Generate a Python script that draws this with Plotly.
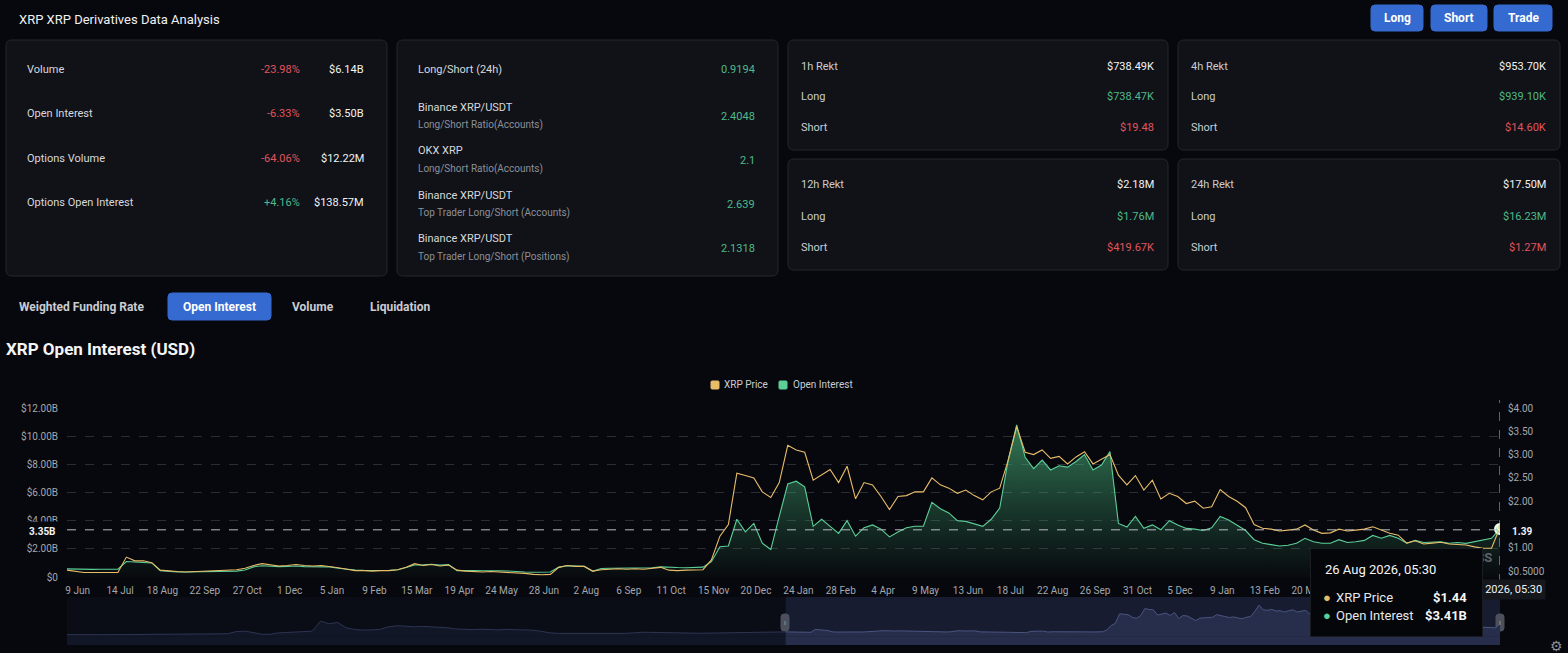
import pandas as pd
import plotly.graph_objects as go

W, H = 1568, 653

# open interest (billions USD), weekly samples
oi_billion = [
    0.58, 0.55, 0.55, 0.54, 0.55, 0.55, 0.55, 1.10, 1.05, 1.02,
    1.00, 0.45, 0.38, 0.36, 0.35, 0.36, 0.38, 0.37, 0.38, 0.40,
    0.42, 0.50, 0.72, 0.80, 0.76, 0.74, 0.75, 0.78, 0.74, 0.73,
    0.74, 0.72, 0.62, 0.55, 0.50, 0.47, 0.45, 0.46, 0.47, 0.52,
    0.68, 0.85, 0.86, 0.90, 0.84, 0.88, 0.45, 0.47, 0.45, 0.44,
    0.46, 0.44, 0.43, 0.42, 0.36, 0.34, 0.33, 0.35, 0.70, 0.80,
    0.78, 0.76, 0.40, 0.60, 0.62, 0.63, 0.62, 0.64, 0.63, 0.66,
    0.72, 0.68, 0.67, 0.66, 0.68, 0.70, 1.09, 2.15, 2.20, 4.10,
    3.20, 3.80, 2.40, 1.95, 4.30, 6.60, 6.80, 6.40, 3.60, 4.10,
    3.60, 3.10, 4.00, 2.90, 3.50, 3.70, 3.40, 2.85, 3.20, 3.50,
    3.60, 3.60, 5.30, 4.85, 4.55, 4.00, 3.95, 3.80, 3.60, 4.10,
    4.90, 8.30, 10.80, 8.50, 7.70, 8.30, 7.60, 7.90, 7.80, 8.20,
    8.70, 7.60, 7.95, 8.90, 3.80, 3.55, 4.30, 3.46, 3.70, 3.35,
    4.00, 3.70, 3.45, 3.40, 3.30, 3.50, 4.30, 4.05, 3.70, 3.30,
    2.65, 2.40, 2.30, 2.20, 2.25, 2.40, 2.75, 2.50, 2.40, 2.40,
    2.65, 2.45, 2.50, 2.60, 2.95, 2.75, 2.95, 2.75, 2.40, 2.60,
    2.45, 2.45, 2.50, 2.40, 2.45, 2.39, 2.50, 2.63, 2.75, 3.41,
]

# XRP price (USD), same weekly samples
xrp_price = [
    0.52, 0.50, 0.47, 0.47, 0.47, 0.48, 0.47, 0.80, 0.72, 0.72,
    0.68, 0.52, 0.50, 0.49, 0.48, 0.49, 0.50, 0.50, 0.51, 0.52,
    0.53, 0.56, 0.62, 0.66, 0.63, 0.61, 0.62, 0.64, 0.62, 0.61,
    0.62, 0.60, 0.57, 0.54, 0.51, 0.51, 0.50, 0.51, 0.51, 0.53,
    0.58, 0.66, 0.62, 0.64, 0.61, 0.63, 0.52, 0.50, 0.49, 0.48,
    0.49, 0.48, 0.48, 0.47, 0.45, 0.43, 0.42, 0.43, 0.58, 0.62,
    0.60, 0.60, 0.50, 0.53, 0.54, 0.55, 0.54, 0.55, 0.54, 0.56,
    0.58, 0.52, 0.51, 0.52, 0.52, 0.53, 0.74, 1.25, 1.50, 2.60,
    2.55, 2.50, 2.20, 2.08, 2.40, 3.20, 3.10, 3.05, 2.45, 2.56,
    2.68, 2.40, 2.75, 2.05, 2.40, 2.35, 2.10, 1.82, 2.10, 2.12,
    2.20, 2.20, 2.50, 2.35, 2.28, 2.17, 2.24, 2.12, 2.03, 2.20,
    2.28, 2.88, 3.60, 3.05, 3.00, 3.10, 2.92, 2.96, 2.80, 2.95,
    3.06, 2.80, 2.90, 3.00, 2.56, 2.35, 2.55, 2.24, 2.45, 2.05,
    2.17, 2.10, 1.95, 2.00, 1.85, 1.88, 2.25, 2.10, 2.00, 1.86,
    1.50, 1.42, 1.40, 1.36, 1.38, 1.40, 1.49, 1.38, 1.31, 1.32,
    1.40, 1.36, 1.38, 1.40, 1.45, 1.38, 1.31, 1.27, 1.10, 1.15,
    1.08, 1.10, 1.12, 1.08, 1.07, 1.06, 1.02, 0.99, 0.99, 1.44,
]

dates = pd.date_range(end="2026-08-26 05:30", periods=len(oi_billion), freq="7D")

# older price history only shown in the zoom slider (every 14 days)
early_price = [
    0.20, 0.18, 0.17, 0.18, 0.19, 0.20, 0.19, 0.20, 0.21, 0.22,
    0.24, 0.25, 0.28, 0.28, 0.26, 0.25, 0.26, 0.28, 0.27, 0.30,
    0.55, 0.60, 0.45, 0.25, 0.24, 0.40, 0.45, 0.48, 0.50, 0.60,
    1.75, 1.45, 1.60, 1.00, 0.80, 0.72, 0.74, 0.80, 1.10, 1.22,
    1.18, 1.10, 1.15, 1.10, 1.12, 1.00, 0.85, 0.80, 0.78, 0.82,
    0.78, 0.75, 0.80, 0.78, 0.76, 0.72, 0.60, 0.42, 0.35, 0.34,
    0.36, 0.35, 0.34, 0.35, 0.37, 0.36, 0.35, 0.40, 0.48, 0.46,
    0.44, 0.38, 0.36, 0.38, 0.37, 0.36, 0.38, 0.40, 0.39, 0.38,
    0.40, 0.47, 0.48, 0.50, 0.48,
]
early_dates = pd.date_range(end="2023-05-17 05:30", periods=len(early_price), freq="14D")

tick_dates = pd.date_range("2023-06-09", "2026-08-20", freq="35D")
tick_text = [f"{d.day} {d.strftime('%b')}" for d in tick_dates]

oi_ticks = [0, 2, 4, 6, 8, 10, 12]
oi_tick_text = ["$0", "$2.00B", "$4.00B", "$6.00B", "$8.00B", "$10.00B", "$12.00B"]
price_ticks = [0.5, 1, 2, 2.5, 3, 3.5, 4]
price_tick_text = ["$0.5000", "$1.00", "$2.00", "$2.50", "$3.00", "$3.50", "$4.00"]

cursor_oi, cursor_price = 3.35, 1.39

stats = [("Volume", "-23.98%", "$6.14B"), ("Open Interest", "-6.33%", "$3.50B"),
         ("Options Volume", "-64.06%", "$12.22M"), ("Options Open Interest", "+4.16%", "$138.57M")]
ratios = [("Long/Short (24h)", "", "0.9194"),
          ("Binance XRP/USDT", "Long/Short Ratio(Accounts)", "2.4048"),
          ("OKX XRP", "Long/Short Ratio(Accounts)", "2.1"),
          ("Binance XRP/USDT", "Top Trader Long/Short (Accounts)", "2.639"),
          ("Binance XRP/USDT", "Top Trader Long/Short (Positions)", "2.1318")]
rekt = [("1h Rekt", "$738.49K", "$738.47K", "$19.48"),
        ("4h Rekt", "$953.70K", "$939.10K", "$14.60K"),
        ("12h Rekt", "$2.18M", "$1.76M", "$419.67K"),
        ("24h Rekt", "$17.50M", "$16.23M", "$1.27M")]

BG = "#07080d"
CARD = "#101217"
EDGE = "#23262d"
RED = "#e2545d"
GREEN = "#4fb98b"
BLUE = "#356ad0"
GOLD = "#e8bd6a"
MINT = "#5ccf98"
FONT = "Roboto"


def X(px):
    return px / W


def Y(py):
    return 1 - py / H


def rounded(x0, y0, x1, y1, r):
    return (f"M {X(x0 + r)},{Y(y0)} L {X(x1 - r)},{Y(y0)} Q {X(x1)},{Y(y0)} {X(x1)},{Y(y0 + r)} "
            f"L {X(x1)},{Y(y1 - r)} Q {X(x1)},{Y(y1)} {X(x1 - r)},{Y(y1)} "
            f"L {X(x0 + r)},{Y(y1)} Q {X(x0)},{Y(y1)} {X(x0)},{Y(y1 - r)} "
            f"L {X(x0)},{Y(y0 + r)} Q {X(x0)},{Y(y0)} {X(x0 + r)},{Y(y0)} Z")


shapes = []
notes = []


def box(x0, y0, x1, y1, fill, line=None, r=6):
    shapes.append(dict(type="path", xref="paper", yref="paper", path=rounded(x0, y0, x1, y1, r),
                       fillcolor=fill, line=dict(color=line or fill, width=1), layer="below"))


def text(x, y, s, size=11, color="#d7d9dd", anchor="left", **kw):
    notes.append(dict(xref="paper", yref="paper", x=X(x), y=Y(y), text=s, showarrow=False,
                      xanchor=anchor, yanchor="middle", font=dict(family=FONT, size=size, color=color), **kw))


# header
text(17, 19, "XRP XRP Derivatives Data Analysis", size=13, color="#f0f1f3")
for label, x0, x1 in [("Long", 1371, 1423), ("Short", 1431, 1487), ("Trade", 1494, 1552)]:
    box(x0, 5, x1, 31, BLUE, r=4)
    text((x0 + x1) / 2, 18, f"<b>{label}</b>", size=12, color="#ffffff", anchor="center")

# cards
box(6, 40, 387, 276, CARD, EDGE)
box(397, 40, 778, 276, CARD, EDGE)
card_pos = [(788, 40, 1168, 150), (1178, 40, 1560, 150), (788, 159, 1168, 270), (1178, 159, 1560, 270)]
for c in card_pos:
    box(*c, CARD, EDGE)

for k, (name, pct, val) in enumerate(stats):
    y = 70 + 44 * k
    text(25, y, name)
    text(302, y, pct, color=GREEN if pct.startswith("+") else RED, anchor="right")
    text(366, y, val, color="#f2f3f5", anchor="right")

for k, (name, sub, val) in enumerate(ratios):
    y = 70 + 44 * k + (2 if k else 0)
    if sub:
        text(416, y - 9, name)
        text(416, y + 9, sub, size=10, color="#8c9099")
    else:
        text(416, y, name)
    text(757, y, val, color=GREEN, anchor="right")

for (x0, y0, x1, y1), (name, total, lng, sht) in zip(card_pos, rekt):
    text(x0 + 11, y0 + 26, name, color="#c9ccd1")
    text(x1 - 12, y0 + 26, total, color="#f2f3f5", anchor="right")
    text(x0 + 11, y0 + 57, "Long", color="#c9ccd1")
    text(x1 - 12, y0 + 57, lng, color=GREEN, anchor="right")
    text(x0 + 11, y0 + 88, "Short", color="#c9ccd1")
    text(x1 - 12, y0 + 88, sht, color=RED, anchor="right")

# tabs + chart title
text(17, 307, "<b>Weighted Funding Rate</b>", size=12, color="#c9ccd1")
box(168, 293, 271, 320, BLUE, r=4)
text(219, 307, "<b>Open Interest</b>", size=12, color="#ffffff", anchor="center")
text(313, 307, "<b>Volume</b>", size=12, color="#c9ccd1", anchor="center")
text(400, 307, "<b>Liquidation</b>", size=12, color="#c9ccd1", anchor="center")
text(4, 349, "<b>XRP Open Interest (USD)</b>", size=17, color="#f4f5f7")

# legend
box(711, 381, 719, 389, GOLD, r=1)
text(722, 385, "XRP Price", size=10, color="#c9ccd1")
box(779, 381, 787, 389, MINT, r=1)
text(791, 385, "Open Interest", size=10, color="#c9ccd1")

fig = go.Figure()

fig.add_trace(go.Scatter(
    x=dates, y=oi_billion, mode="lines", line=dict(color=MINT, width=1.1),
    fill="tozeroy",
    fillgradient=dict(type="vertical", colorscale=[[0, "rgba(60,160,110,0.02)"], [1, "rgba(80,190,130,0.62)"]]),
    hoverinfo="skip"))
fig.add_trace(go.Scatter(
    x=dates, y=xrp_price, yaxis="y2", mode="lines", line=dict(color=GOLD, width=1.1), hoverinfo="skip"))
fig.add_trace(go.Scatter(
    x=[dates[-1]], y=[oi_billion[-1]], mode="markers", hoverinfo="skip",
    marker=dict(size=10, color="#8ff0c0", line=dict(color="#e9fff4", width=2))))
fig.add_trace(go.Scatter(
    x=[dates[-1]], y=[xrp_price[-1]], yaxis="y2", mode="markers", hoverinfo="skip",
    marker=dict(size=6, color="#f3d9a0", line=dict(color="#ffffff", width=1))))

# zoom slider
slider_x = list(early_dates) + [dates[0]]
slider_y = early_price + [xrp_price[0]]
shapes.append(dict(type="rect", xref="x2", yref="paper", x0=slider_x[0], x1=dates[0],
                   y0=Y(645), y1=Y(597), fillcolor="#0b0d16", line=dict(width=0), layer="below"))
shapes.append(dict(type="rect", xref="x2", yref="paper", x0=dates[0], x1=dates[-1],
                   y0=Y(645), y1=Y(597), fillcolor="#171c30", line=dict(width=0), layer="below"))
shapes.append(dict(type="rect", xref="x2", yref="paper", x0=slider_x[0], x1=dates[0],
                   y0=Y(645), y1=Y(636.4), fillcolor="#121727", line=dict(width=0), layer="below"))
shapes.append(dict(type="rect", xref="x2", yref="paper", x0=dates[0], x1=dates[-1],
                   y0=Y(645), y1=Y(636.4), fillcolor="#272e4b", line=dict(width=0), layer="below"))
fig.add_trace(go.Scatter(x=slider_x, y=slider_y, xaxis="x2", yaxis="y3", mode="lines",
                         line=dict(color="#2c3452", width=1), fill="tozeroy", fillcolor="#121727",
                         hoverinfo="skip"))
fig.add_trace(go.Scatter(x=dates, y=xrp_price, xaxis="x2", yaxis="y3", mode="lines",
                         line=dict(color="#4a5580", width=1), fill="tozeroy", fillcolor="#272e4b",
                         hoverinfo="skip"))
for hx in (785, 1500):
    box(hx - 4, 614, hx + 4, 631, "#4b505c", r=3)
    text(hx, 622.5, "ǁ", size=7, color="#a7abb4", anchor="center")

# crosshair
shapes.append(dict(type="line", xref="paper", yref="y", x0=X(67), x1=X(1500), y0=cursor_oi, y1=cursor_oi,
                   line=dict(color="#b9bdc4", width=1, dash="dash")))
shapes.append(dict(type="line", xref="x", yref="paper", x0=dates[-1], x1=dates[-1], y0=Y(583), y1=Y(400),
                   line=dict(color="#b9bdc4", width=1, dash="dash")))
text(61, 531, f"<b>{cursor_oi:.2f}B</b>", size=10, color="#f2f3f5", anchor="right", bgcolor=BG, borderpad=4)
text(1507, 531, f"<b>{cursor_price:.2f}</b>", size=10, color="#f2f3f5", bgcolor=BG, borderpad=4)
text(1546, 589, "26 Aug 2026, 05:30", size=11, color="#f2f3f5", anchor="right", bgcolor="#15171c", borderpad=3)

# watermark (mostly behind the tooltip)
text(1494, 557, "<b>COINGLASS</b>", size=13, color="#5f646d", anchor="right")

# tooltip
notes.append(dict(xref="paper", yref="paper", x=X(1396), y=Y(592), text=" ", showarrow=False,
                  xanchor="center", yanchor="middle", width=171, height=87, bgcolor="#050609",
                  bordercolor="#1a1c22", borderwidth=1, borderpad=0))
text(1323, 569, "26 Aug 2026, 05:30", size=13, color="#f4f5f7")
text(1321, 597, "●", size=13, color=GOLD)
text(1334, 597, "XRP Price", size=13, color="#e6e8eb")
text(1469, 597, f"<b>${xrp_price[-1]:.2f}</b>", size=13, color="#f4f5f7", anchor="right")
text(1321, 615, "●", size=13, color=MINT)
text(1334, 615, "Open Interest", size=13, color="#e6e8eb")
text(1469, 615, f"<b>${oi_billion[-1]:.2f}B</b>", size=13, color="#f4f5f7", anchor="right")
text(1556, 646, "⚙", size=14, color="#8c9099", anchor="center")

axis_font = dict(family=FONT, size=10, color="#a3a7ae")
fig.update_layout(
    width=W, height=H, margin=dict(l=0, r=0, t=0, b=0, pad=0, autoexpand=False),
    paper_bgcolor=BG, plot_bgcolor=BG, showlegend=False, hovermode=False,
    font=dict(family=FONT),
    xaxis=dict(domain=[X(67), X(1500)], anchor="y", type="date", range=[dates[0], dates[-1]],
               tickvals=tick_dates, ticktext=tick_text, showgrid=False, zeroline=False,
               showline=False, ticks="", tickfont=axis_font, ticklabelstandoff=6, automargin=False),
    yaxis=dict(domain=[Y(577), Y(408)], anchor="x", range=[0, 12], tickvals=oi_ticks,
               ticktext=oi_tick_text, showgrid=True, gridcolor="#2a2d36", griddash="dash",
               zeroline=False, ticks="", tickfont=axis_font, ticklabelstandoff=8, automargin=False),
    yaxis2=dict(overlaying="y", anchor="x", side="right", range=[0.373, 4], tickvals=price_ticks,
                ticktext=price_tick_text, showgrid=False, zeroline=False, ticks="", tickfont=axis_font,
                ticklabelstandoff=7, automargin=False),
    xaxis2=dict(domain=[X(67), X(1500)], anchor="y3", type="date", range=[slider_x[0], dates[-1]],
                visible=False),
    yaxis3=dict(domain=[Y(645), Y(597)], anchor="x2", range=[-0.99, 4.53], visible=False),
    shapes=shapes, annotations=notes,
)

# pin the figure to the top-left corner of the page, no body margin / scroll
pin = ("document.documentElement.style.overflow='hidden';"
       "document.body.style.margin='0';document.body.style.overflow='hidden';"
       "document.body.style.background='%s';"
       "var d=document.getElementById('{plot_id}');"
       "d.style.position='fixed';d.style.left='0px';d.style.top='0px';" % BG)
fig.write_html("out.html", config={"displayModeBar": False}, post_script=pin)
